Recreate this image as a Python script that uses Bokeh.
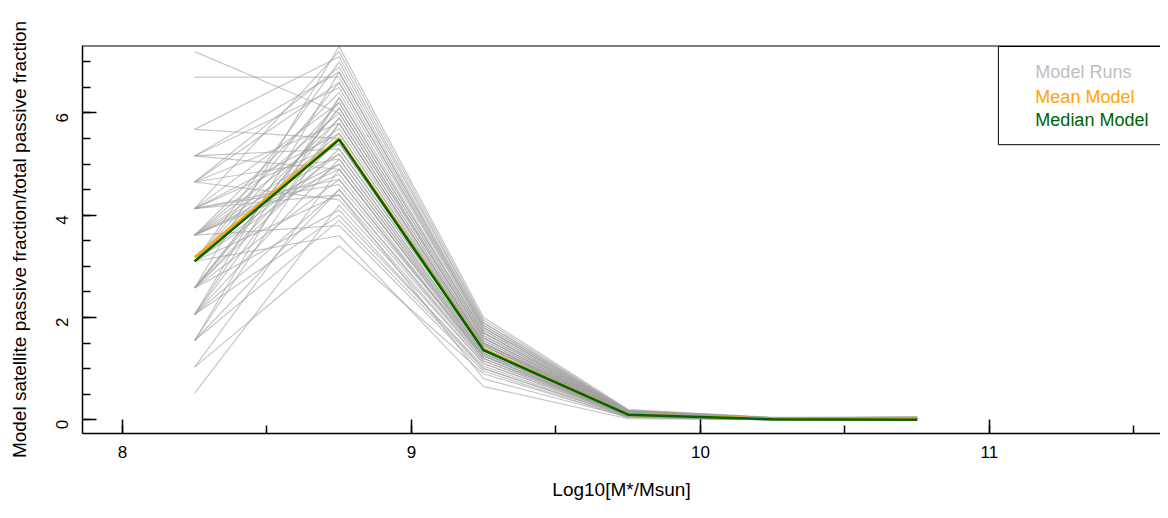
from bokeh.plotting import figure
from bokeh.embed import file_html
from bokeh.resources import INLINE
from bokeh.models import Range1d, Span, FixedTicker, BoxAnnotation, Label

x = [8.25, 8.75, 9.25, 9.75, 10.25, 10.75]
r825 = [0.52,1.03,1.03,1.55,1.55,1.55,2.06,2.06,2.06,2.06,2.58,2.58,2.58,2.58,2.58,3.10,3.10,3.10,3.10,3.10,3.10,3.61,3.61,3.61,3.61,3.61,3.61,4.13,4.13,4.13,4.13,4.13,4.65,4.65,4.65,4.65,5.16,5.16,5.16,5.68,5.68,6.70,7.20,2.58,3.10,3.61,2.06,4.13,3.10,2.58,3.61,1.55,4.65,3.10,2.06,3.61,5.16,2.58,4.13,3.10]
r875 = [4.2,3.4,4.9,5.8,3.9,6.3,4.5,5.1,6.8,4.0,5.3,7.3,4.7,5.9,6.1,3.6,5.5,6.6,4.4,5.0,7.0,5.7,4.8,6.0,5.2,3.8,6.4,5.4,4.6,7.2,5.6,6.2,4.3,5.8,6.9,5.1,4.9,6.5,5.3,7.1,5.5,6.7,6.0,4.1,5.9,5.0,6.3,4.7,5.6,6.1,5.4,4.5,6.6,5.2,5.8,4.9,6.8,5.5,4.4,6.2]
r925 = [1.1,0.9,1.3,1.5,1.0,1.7,1.2,1.35,1.85,1.05,1.4,2.0,1.25,1.55,1.6,0.65,1.45,1.8,1.15,1.3,1.9,1.5,1.2,1.6,1.35,0.95,1.7,1.4,1.25,1.95,1.45,1.65,1.1,1.5,1.85,1.3,1.25,1.75,1.4,1.9,1.45,1.8,1.6,1.0,1.55,1.3,1.7,1.2,1.5,1.6,1.4,1.15,1.75,1.35,1.5,1.25,1.8,1.45,0.8,1.65]
r975 = [0.08,0.05,0.1,0.12,0.07,0.14,0.09,0.1,0.17,0.06,0.11,0.2,0.09,0.13,0.13,0.02,0.11,0.16,0.08,0.1,0.18,0.12,0.09,0.13,0.1,0.04,0.15,0.11,0.09,0.19,0.12,0.14,0.07,0.12,0.17,0.1,0.09,0.15,0.11,0.18,0.11,0.16,0.13,0.06,0.12,0.1,0.14,0.08,0.12,0.13,0.11,0.08,0.15,0.1,0.12,0.09,0.16,0.11,0.05,0.14]
r1025 = [0.01,0.0,0.02,0.02,0.01,0.03,0.01,0.02,0.04,0.0,0.02,0.05,0.01,0.02,0.03,0.0,0.02,0.03,0.01,0.02,0.04,0.02,0.01,0.03,0.02,0.0,0.03,0.02,0.01,0.04,0.02,0.03,0.01,0.02,0.04,0.02,0.01,0.03,0.02,0.04,0.02,0.03,0.03,0.0,0.02,0.02,0.03,0.01,0.02,0.03,0.02,0.01,0.03,0.02,0.02,0.01,0.03,0.02,0.0,0.03]
r1075 = [0.01,0.0,0.02,0.03,0.01,0.04,0.01,0.02,0.05,0.0,0.02,0.06,0.01,0.03,0.03,0.0,0.02,0.04,0.01,0.02,0.05,0.03,0.01,0.03,0.02,0.0,0.04,0.02,0.01,0.05,0.03,0.04,0.01,0.03,0.05,0.02,0.01,0.04,0.02,0.05,0.02,0.04,0.03,0.0,0.03,0.02,0.04,0.01,0.03,0.03,0.02,0.01,0.04,0.02,0.03,0.01,0.04,0.02,0.0,0.03]
mean_model = [3.18, 5.50, 1.38, 0.10, 0.02, 0.01]
median_model = [3.10, 5.48, 1.36, 0.10, 0.01, 0.00]
legend_labels = ["Model Runs", "Mean Model", "Median Model"]
legend_colors = ["#bebebe", "orange", "darkgreen"]

p = figure(width=1160, height=502, output_backend="svg", toolbar_location=None,
           x_range=Range1d(7.862, 11.592), y_range=Range1d(-0.268, 7.32),
           min_border_left=82, min_border_top=45, min_border_bottom=61, min_border_right=0,
           x_axis_label="Log10[M*/Msun]",
           y_axis_label="Model satellite passive fraction/total passive fraction")
p.outline_line_color = None
p.grid.visible = False
p.background_fill_color = "white"
p.border_fill_color = "white"

runs = list(zip(r825, r875, r925, r975, r1025, r1075))
for r in runs:
    p.line(x, list(r), line_color="#a0a0a0", line_alpha=0.6, line_width=1.2)
p.line(x, mean_model, line_color="orange", line_width=2.5)
p.line(x, median_model, line_color="darkgreen", line_width=2.5)

for ax in (p.xaxis[0], p.yaxis[0]):
    ax.axis_line_color = "black"
    ax.axis_line_width = 1.5
    ax.major_tick_in = 14
    ax.major_tick_out = 0
    ax.minor_tick_in = 8
    ax.minor_tick_out = 0
    ax.major_tick_line_width = 1.5
    ax.minor_tick_line_width = 1.5
    ax.minor_tick_line_color = "black"
    ax.major_label_text_font = "Liberation Sans"
    ax.major_label_text_font_size = "17px"
    ax.axis_label_text_font = "Liberation Sans"
    ax.axis_label_text_font_size = "19px"
    ax.axis_label_text_font_style = "normal"
    ax.major_label_text_color = "black"
    ax.axis_label_text_color = "black"
p.xaxis[0].ticker = FixedTicker(ticks=[8, 9, 10, 11], minor_ticks=[8.5 + 0.5*i for i in range(-1, 8)])
p.yaxis[0].ticker = FixedTicker(ticks=[0, 2, 4, 6], minor_ticks=[0.5*i for i in range(15)])
p.xaxis[0].major_label_standoff = 12
p.yaxis[0].major_label_standoff = 20
p.yaxis[0].major_label_orientation = 1.5708
p.xaxis[0].axis_label_standoff = 18
p.yaxis[0].axis_label_standoff = 18

p.add_layout(Span(location=7.32, dimension="width", line_color="black", line_width=2))
p.add_layout(BoxAnnotation(left=11.031, right=11.7, top=7.30, bottom=5.38,
                           fill_alpha=0, line_color="black", line_width=1, line_alpha=1))
for lab, col, yy in zip(legend_labels, legend_colors, [6.80, 6.32, 5.86]):
    p.add_layout(Label(x=11.159, y=yy, text=lab, text_color=col, text_baseline="middle",
                       text_font="Liberation Sans", text_font_size="18px"))

open("out.html", "w").write(file_html(p, INLINE))
